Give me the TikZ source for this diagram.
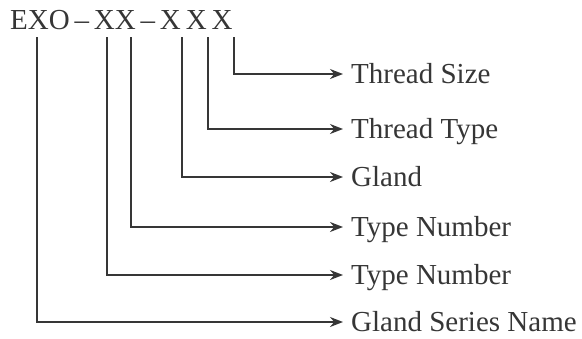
\documentclass[tikz,border=0pt]{standalone}
\usepackage{fontspec}
\setmainfont{Liberation Serif}
\usetikzlibrary{arrows.meta}
\definecolor{ink}{HTML}{363636}
\tikzset{
  x=1pt, y=1pt,
  lab/.style={anchor=west, inner sep=0pt, text height=19pt, text depth=0pt, text=ink,
              font=\fontsize{29}{34}\selectfont},
  conn/.style={draw=ink, line width=1.7pt, -{Stealth[length=13pt,width=10pt]}},
}
\begin{document}
\begin{tikzpicture}
\useasboundingbox (0,0) rectangle (582,-338);
\node[anchor=base west, inner sep=0pt, text=ink, font=\fontsize{29}{34}\selectfont] (title) at (10,-29) {EXO\,–\,XX\,–\,X\,X\,X};
% start points under the code characters
\coordinate (s1) at (37,-37);
\coordinate (s2) at (107,-37);
\coordinate (s3) at (131,-37);
\coordinate (s4) at (182,-37);
\coordinate (s5) at (208,-37);
\coordinate (s6) at (234,-37);
% labels
\node[lab] (l6) at (351,-74) {Thread Size};
\node[lab] (l5) at (351,-129) {Thread Type};
\node[lab] (l4) at (351,-177) {Gland};
\node[lab] (l3) at (351,-227) {Type Number};
\node[lab] (l2) at (351,-275) {Type Number};
\node[lab] (l1) at (351,-322) {Gland Series Name};
% connectors
\foreach \i in {1,...,6}{
  \draw[conn] (s\i) |- ([xshift=-8pt]l\i.west);
}
\end{tikzpicture}
\end{document}
